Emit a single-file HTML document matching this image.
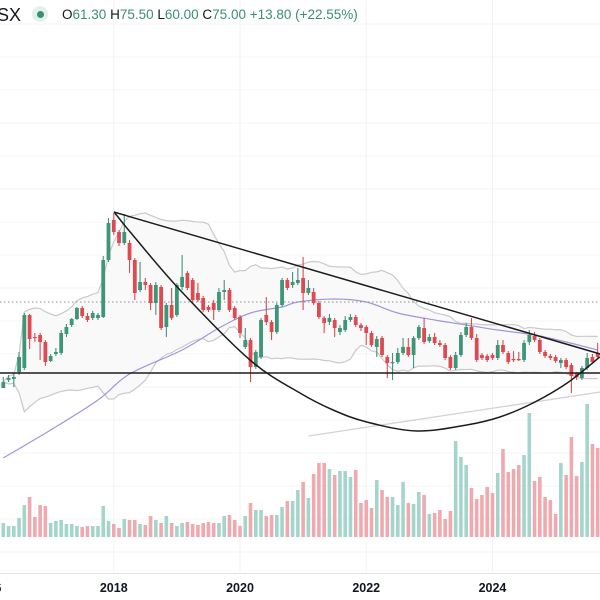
<!DOCTYPE html>
<html><head><meta charset="utf-8">
<style>
html,body{margin:0;padding:0;background:#fff;width:600px;height:600px;overflow:hidden;font-family:"Liberation Sans",sans-serif}
#hdr{position:absolute;left:0;top:4px;height:24px;white-space:nowrap}
svg{position:absolute;left:0;top:0}
</style></head><body>
<svg id="chart" width="600" height="600"></svg>
<div id="hdr">
 <span style="position:absolute;left:-3px;top:1px;font-size:18px;color:#131722">SX</span>
 <span style="position:absolute;left:32px;top:2px;width:16px;height:16px;border-radius:50%;background:#e3f1ec"></span>
 <span style="position:absolute;left:37px;top:7px;width:7px;height:7px;border-radius:50%;background:#3b8e73"></span>
 <span style="position:absolute;left:62px;top:3px;font-size:13.5px;color:#3b8e73">
 <b style="font-weight:normal;color:#131722">O</b>61.30 <b style="font-weight:normal;color:#131722">H</b>75.50 <b style="font-weight:normal;color:#131722">L</b>60.00 <b style="font-weight:normal;color:#131722">C</b>75.00 +13.80 (+22.55%)</span>
</div>
<script>
const opens=[36,40,40.5,44,46,72.5,61.5,62.5,59,49.5,53,53.5,63,67.5,70.5,76,72,71,71,71.5,100,120,114,108.5,108.5,100,85,89,87.5,78.5,86.5,66.5,77.5,72.5,86.5,93.5,90,83.5,81,76.5,78.5,75,84,85,76,71.5,56.5,60,46.5,51.5,72.5,69,64,77.5,90,87.5,88.5,91,83.5,84,78.5,71,69,70,64,65,70,71.5,67.5,66.5,63.5,56.5,61,51.5,48.5,49,53.5,56.5,52.5,61,66,59.5,61.5,58.5,57.5,51.5,46,52.5,62.5,66.5,61,52.5,52,52.5,51,57.5,53.5,50.5,50.5,50,59,62,60,54,52,51.5,48.5,50,47.5,43.5,41,46,51.5,53.5];
const closes=[39,41,41.5,51.5,72.5,60.5,61,59,49,52,54,63.5,66.5,70.5,76,72,70,73.5,72.5,100,118.5,114,108.5,114,100,83.5,89,87.5,78.5,87.5,66,77.5,71,87.5,91.5,86,80,80,75,75,75,84,85,75,71,63.5,60,46.5,54,70,69,64,77.5,90,86,89,90,83.5,86,78.5,71.5,68.5,71,66,66,70,71.5,67.5,66,63.5,57.5,60.5,52.5,48.5,49,53.5,56.5,52.5,61,66.5,59,61.5,58.5,57.5,51,46,52.5,62.5,66.5,61,50,51,50,51,57.5,54,49,50,50,58.5,62.5,60,54,52,51,49.5,50,46.5,42,41.5,46,51,49,51.5];
const highs=[41.5,42.5,43.5,54,73.5,73,63.5,63.5,60,53,56,65,68,71,76.5,77,73.5,74.5,73.5,102,121,123.5,115,123,110,101,99,91,88.5,89,87.5,78.5,86,88.5,102.5,94.5,91,88.5,82,77.5,80,86,90,86,77,72.5,66,61,55,71,81.5,70,78.5,91,91,94,96,101.5,90,86,79.5,72,73,71,67.5,72,73,72.5,68.5,67.5,64.5,62,62,52.5,53.5,56,61,61,62,67.5,71,63,63.5,60,58.5,52.5,54,64,68.5,71,63,53.5,53,53.5,60,60,54.5,54.5,54,60,65,64,61,55,53,52.5,51,51,48.5,44,47,53.5,53,58.5];
const lows=[36,39,36.5,42.5,45,55.5,59,50,47,49,52,52.5,61.5,66.5,70,71,69,70,70,71,99,112.5,107,107.5,93.5,80,84,85,75,72.5,65,61.5,70,71.5,85,85,79,79,74,74,70,74,80,74,70,61,55.5,39,45.5,50.5,67.5,60,63,76.5,85,86,87.5,75,82.5,77.5,70.5,63.5,67.5,61.5,62.5,64,69,66.5,64.5,57.5,56.5,51.5,51.5,41,40,48,52.5,51.5,46,60,58,58.5,57.5,56.5,50,45,45,51.5,61.5,60,49,50,49,50,50,53,48,49,49.5,49,57.5,59,53,51,50,48.5,46,45.5,33.5,40,40,45,48,50.5];
const volumes=[14,11,11,19,32,40,20,32,31,14,16,17,13,13,11,10,11,11,11,31,16,13,9,18,17,17,13,12,21,17,14,21,14,11,14,15,13,12,14,15,14,14,21,22,17,11,21,34,27,27,21,22,22,30,36,36,47,55,39,63,74,74,68,62,66,66,60,67,34,37,29,57,47,40,40,32,55,34,33,45,42,23,24,27,18,26,96,80,72,49,38,42,50,44,64,88,65,68,72,82,124,56,60,40,37,23,74,62,100,61,75,133,93,89];
const maIdx=[0,9,18,24,34,41,47,53,56,63,69,75,82,88,94,101,107,113];
const maVal=[1,15,30,43,55,66,73.5,76.5,79,80.5,79,73.5,70,67.5,65,62.5,59,55];
const arcIdx=[21.2,24.6,33.6,46.9,56.4,62.7,69.1,78.6,88.1,94.4,100.7,107.2,113.4];
const arcVal=[123.5,112.5,85,50,33.5,25,19,14.5,17.5,21.5,28.5,38.5,51.5];
const trendIdx=[21,113.5];
const trendVal=[124,53];
const longIdx=[58,113.5];
const longVal=[12,34];
const supportVal=43.5;
const lastLineVal=79;
const tickIdx=[-3,21,45,69,93];
const tickLabels=["2016","2018","2020","2022","2024"];

const X=i=>3.3+i*5.26;
const Y=p=>460-p*2;
const VY=v=>537-v;
const NS="http://www.w3.org/2000/svg";
const svg=document.getElementById('chart');
function mk(tag,attrs,parent){const e=document.createElementNS(NS,tag);for(const k in attrs)e.setAttribute(k,attrs[k]);(parent||svg).appendChild(e);return e;}

for(let y=24;y<560;y+=33){const g=mk('line',{x1:0,x2:600,y1:y,y2:y,stroke:'#f4f4f6','stroke-width':1});

}
tickIdx.forEach((t,k)=>{if(k===0)return;const g=mk('line',{x1:X(t),x2:X(t),y1:0,y2:572,stroke:'#f2f2f4','stroke-width':1});

});
const ax=mk('line',{x1:0,x2:600,y1:573.5,y2:573.5,stroke:'#e0e3eb','stroke-width':1});


tickIdx.forEach((t,k)=>{const tx=mk('text',{x:X(t),y:592,'text-anchor':'middle','font-size':12.5,'font-weight':'bold',fill:'#131722','font-family':'Liberation Sans, sans-serif'});tx.textContent=tickLabels[k];

});

volumes.forEach((v,i)=>{const up=closes[i]>=opens[i];const r=mk('rect',{x:X(i)-1.8,y:VY(v),width:3.6,height:v,fill:up?'#a3d5cb':'#f0a9ae'});

});

const up=[],lo=[];
for(let i=0;i<closes.length;i++){const s=Math.max(0,i-19);const w=closes.slice(s,i+1);const m=w.reduce((a,b)=>a+b,0)/w.length;const sd=Math.sqrt(w.reduce((a,b)=>a+(b-m)*(b-m),0)/w.length);up.push(m+2*sd);lo.push(m-2*sd);}
let fd='M'+up.map((v,i)=>X(i)+','+Y(v)).join('L')+'L'+lo.map((v,i)=>X(i)+','+Y(v)).reverse().join('L')+'Z';
const bf=mk('path',{d:fd,fill:'#f9f9fa',stroke:'none'});


[up,lo].forEach((arr,k)=>{const p=mk('path',{d:'M'+arr.map((v,i)=>X(i)+','+Y(v)).join('L'),fill:'none',stroke:'#c9c9ce','stroke-width':1.2});

});

const lg=mk('line',{x1:X(longIdx[0]),y1:Y(longVal[0]),x2:X(longIdx[1]),y2:Y(longVal[1]),stroke:'#d3d3d7','stroke-width':1.3});



function smooth(ix,vals){const pts=ix.map((t,k)=>[X(t),Y(vals[k])]);let d='M'+pts[0];for(let k=0;k<pts.length-1;k++){const p0=pts[k-1]||pts[k],p1=pts[k],p2=pts[k+1],p3=pts[k+2]||p2;d+='C'+(p1[0]+(p2[0]-p0[0])/6)+','+(p1[1]+(p2[1]-p0[1])/6)+' '+(p2[0]-(p3[0]-p1[0])/6)+','+(p2[1]-(p3[1]-p1[1])/6)+' '+p2[0]+','+p2[1];}return d;}
const ma=mk('path',{d:smooth(maIdx,maVal),fill:'none',stroke:'#9d97dc','stroke-width':1.2});



const dl=mk('line',{x1:0,x2:600,y1:Y(lastLineVal),y2:Y(lastLineVal),stroke:'#8a8e99','stroke-width':1,'stroke-dasharray':'1.5,2.5'});



opens.forEach((o,i)=>{const c=closes[i];const upc=c>=o;const col=upc?'#3f9577':'#dd4a50';const g=mk('g',{});


mk('line',{x1:X(i),x2:X(i),y1:Y(highs[i]),y2:Y(lows[i]),stroke:col,'stroke-width':1.1},g);
const t=Math.min(Y(o),Y(c)),h=Math.max(1.2,Math.abs(Y(o)-Y(c)));
mk('rect',{x:X(i)-1.9,y:t,width:3.8,height:h,fill:col},g);});

const sl=mk('line',{x1:0,x2:600,y1:Y(supportVal),y2:Y(supportVal),stroke:'#1c1c1c','stroke-width':1.5});


const tl=mk('line',{x1:X(trendIdx[0]),y1:Y(trendVal[0]),x2:X(trendIdx[1]),y2:Y(trendVal[1]),stroke:'#1c1c1c','stroke-width':1.5});


const arc=mk('path',{d:smooth(arcIdx,arcVal),fill:'none',stroke:'#1c1c1c','stroke-width':1.5});


</script>
</body></html>
